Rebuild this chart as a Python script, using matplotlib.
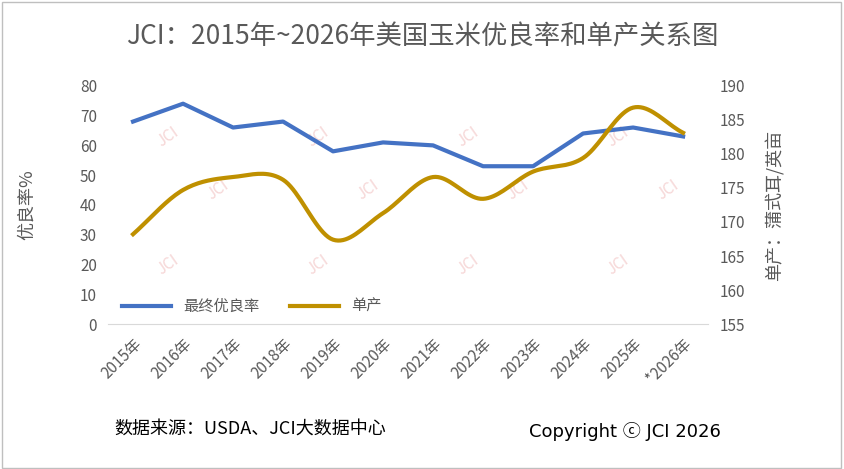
import numpy as np
import matplotlib
matplotlib.use("Agg")
import matplotlib.pyplot as plt
from matplotlib.patches import Rectangle

plt.rcParams['font.family'] = ['Noto Sans CJK SC', 'DejaVu Sans']

years = ["2015年", "2016年", "2017年", "2018年", "2019年", "2020年", "2021年",
         "2022年", "2023年", "2024年", "2025年", "*2026年"]
good_rate = [68, 74, 66, 68, 58, 61, 60, 53, 53, 64, 66, 63]
yield_bu = [168.2, 174.7, 176.6, 176.2, 167.4, 171.3, 176.6, 173.4, 177.4, 179.4, 186.8, 183.1]


def smooth(x, y, n=20):
    # Catmull-Rom curve, like Excel's smoothed line
    x = np.asarray(x, float); y = np.asarray(y, float)
    px = np.concatenate([[2 * x[0] - x[1]], x, [2 * x[-1] - x[-2]]])
    py = np.concatenate([[2 * y[0] - y[1]], y, [2 * y[-1] - y[-2]]])
    xs, ys = [], []
    for i in range(1, len(px) - 2):
        t = np.linspace(0, 1, n, endpoint=False)
        for p, out in ((px, xs), (py, ys)):
            p0, p1, p2, p3 = p[i - 1], p[i], p[i + 1], p[i + 2]
            out.extend(0.5 * (2 * p1 + (-p0 + p2) * t + (2 * p0 - 5 * p1 + 4 * p2 - p3) * t ** 2
                              + (-p0 + 3 * p1 - 3 * p2 + p3) * t ** 3))
    xs.append(x[-1]); ys.append(y[-1])
    return np.array(xs), np.array(ys)


fig = plt.figure(figsize=(8.44, 4.69), dpi=100)
ax = fig.add_axes([0.128, 0.309, 0.711, 0.508])
ax2 = ax.twinx()

x = np.arange(len(years))
ax.plot(x, good_rate, color='#4472C4', lw=3, label='最终优良率', zorder=3)
sx, sy = smooth(x, yield_bu)
ax2.plot(sx, sy, color='#BF9000', lw=3, label='单产', zorder=3)

ax.set_ylim(0, 80)
ax.set_yticks(range(0, 81, 10))
ax2.set_ylim(155, 190)
ax2.set_yticks(range(155, 191, 5))
ax.set_xlim(-0.5, len(years) - 0.5)
ax.set_xticks(x)
ax.set_xticklabels(years, rotation=45, ha='right', rotation_mode='anchor')
for a in (ax, ax2):
    a.tick_params(length=0, labelsize=11, colors='#595959', pad=8)
    for s in a.spines.values():
        s.set_visible(False)
ax.spines['bottom'].set_visible(True)
ax.spines['bottom'].set_color('#D9D9D9')
ax.set_ylabel('优良率%', fontsize=13, color='#595959')
ax.yaxis.set_label_coords(-0.12, 0.5)
ax2.set_ylabel('单产：蒲式耳/英亩', fontsize=13, color='#595959')
ax2.yaxis.set_label_coords(1.095, 0.5)

# watermarks
marks = [(0.7, 63), (3.7, 63), (6.7, 63), (9.7, 63),
         (1.7, 45), (4.7, 45), (7.7, 45), (10.7, 45),
         (0.7, 20), (3.7, 20), (6.7, 20), (9.7, 20)]
for mx, my in marks:
    ax.text(mx, my, 'JCI', color='#F4CCCC', fontsize=11, rotation=35,
            ha='center', va='center', alpha=0.8, zorder=1)

h1, l1 = ax.get_legend_handles_labels()
h2, l2 = ax2.get_legend_handles_labels()
ax.legend(h1 + h2, l1 + l2, loc='lower left', bbox_to_anchor=(0.0, -0.02), ncol=2,
          frameon=False, fontsize=11, labelcolor='#595959', handlelength=3.2)

fig.text(0.5, 0.905, 'JCI：2015年~2026年美国玉米优良率和单产关系图', ha='center',
         fontsize=19, color='#595959')
fig.text(0.135, 0.075, '数据来源：USDA、JCI大数据中心', fontsize=13, color='black')
fig.text(0.627, 0.068, 'Copyright ⓒ JCI 2026', fontsize=13, color='black',
         family=['DejaVu Sans', 'Noto Sans CJK SC'])
fig.patches.append(Rectangle((0.002, 0.003), 0.995, 0.993, transform=fig.transFigure,
                             fill=False, ec='#BFBFBF', lw=1))

fig.savefig('out.png', dpi=100)
